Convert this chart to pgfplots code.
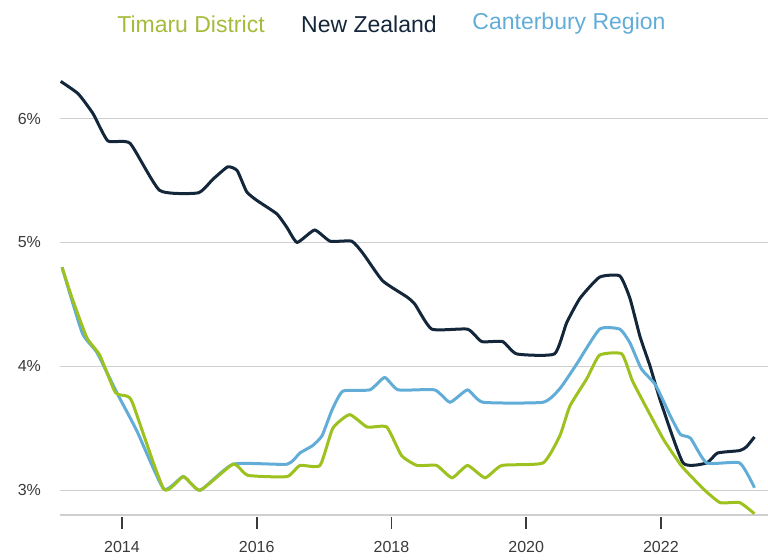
\documentclass[border=0pt]{standalone}
\usepackage{fontspec}
\setmainfont{Liberation Sans}
\usepackage{pgfplots}
\pgfplotsset{compat=1.18}
\definecolor{timaru}{HTML}{9DC11F}
\definecolor{timarutxt}{HTML}{A6BA3C}
\definecolor{nz}{HTML}{13263A}
\definecolor{cant}{HTML}{62ADD8}
\definecolor{gridc}{HTML}{CFCFCF}
\definecolor{lab}{HTML}{3A3A3A}
\begin{document}
\begin{tikzpicture}
\path[use as bounding box] (0,0) rectangle (384pt,280pt);
\begin{axis}[
  at={(30pt,22.5pt)}, anchor=south west,
  width=354pt, height=223pt, scale only axis,
  xmin=2013.08, xmax=2023.59, ymin=2.8, ymax=6.4,
  axis x line*=bottom, axis y line*=left,
  x axis line style={gridc, line width=0.7pt, -},
  y axis line style={draw=none},
  ytick={3,4,5,6}, yticklabels={3\%,4\%,5\%,6\%},
  xtick={2014,2016,2018,2020,2022}, xticklabels={2014,2016,2018,2020,2022},
  ymajorgrids, grid style={gridc, line width=0.6pt},
  ytick style={draw=none},
  xtick style={lab, line width=0.9pt, yshift=-1pt},
  xtick align=outside, major tick length=6pt,
  tick label style={font=\fontsize{8}{9}\selectfont, text=lab},
  yticklabel style={xshift=-6pt},
  xticklabel style={yshift=-3.5pt},
  /pgf/number format/assume math mode=true,
  clip=false,
]
% New Zealand
\addplot[nz, line width=1.5pt, smooth, tension=0.3] coordinates {
(2013.09,6.30) (2013.35,6.20) (2013.57,6.04) (2013.79,5.82) (2014.12,5.80)
(2014.56,5.42) (2015.13,5.40) (2015.35,5.51) (2015.57,5.61) (2015.71,5.58)
(2015.85,5.41) (2016.00,5.34) (2016.30,5.23) (2016.45,5.12) (2016.60,5.00)
(2016.86,5.10) (2017.09,5.01) (2017.41,5.01) (2017.58,4.91) (2017.87,4.69)
(2018.23,4.56) (2018.35,4.50) (2018.60,4.30) (2019.13,4.30) (2019.34,4.20)
(2019.65,4.20) (2019.86,4.10) (2020.42,4.10) (2020.60,4.35) (2020.80,4.55)
(2021.09,4.72) (2021.39,4.73) (2021.54,4.55) (2021.69,4.24) (2021.84,4.00)
(2022.00,3.71) (2022.33,3.22) (2022.68,3.22) (2022.84,3.30) (2023.17,3.32)
(2023.27,3.35) (2023.39,3.43)
};
% Canterbury Region
\addplot[cant, line width=1.5pt, smooth, tension=0.3] coordinates {
(2013.11,4.80) (2013.41,4.27) (2013.63,4.11) (2013.93,3.78) (2014.22,3.48)
(2014.62,3.01) (2014.91,3.11) (2015.16,3.00) (2015.65,3.21)
(2016.45,3.21) (2016.64,3.30) (2016.83,3.36) (2016.97,3.44) (2017.12,3.65)
(2017.28,3.80) (2017.68,3.81) (2017.90,3.91) (2018.10,3.81) (2018.64,3.81)
(2018.87,3.71) (2019.13,3.81) (2019.36,3.71) (2020.25,3.71) (2020.50,3.82)
(2020.74,4.01) (2021.09,4.30) (2021.39,4.30) (2021.54,4.19) (2021.71,3.98)
(2021.92,3.85) (2022.14,3.60) (2022.29,3.45) (2022.44,3.42) (2022.68,3.22)
(2023.17,3.22) (2023.39,3.02)
};
% Timaru District
\addplot[timaru, line width=1.5pt, smooth, tension=0.3] coordinates {
(2013.11,4.80) (2013.26,4.55) (2013.48,4.23) (2013.67,4.09) (2013.90,3.79)
(2014.07,3.76) (2014.16,3.70) (2014.62,3.01) (2014.91,3.11) (2015.16,3.00)
(2015.65,3.21) (2015.87,3.12) (2016.45,3.11) (2016.64,3.20) (2016.94,3.20)
(2017.13,3.50) (2017.38,3.61) (2017.64,3.51) (2017.93,3.51) (2018.15,3.28)
(2018.38,3.20) (2018.67,3.20) (2018.90,3.10) (2019.13,3.20) (2019.39,3.10)
(2019.64,3.20) (2020.25,3.22) (2020.50,3.44) (2020.65,3.68) (2020.90,3.90)
(2021.09,4.09) (2021.42,4.10) (2021.58,3.88) (2021.85,3.60) (2022.05,3.40)
(2022.30,3.20) (2022.47,3.10) (2022.65,3.00) (2022.88,2.90) (2023.17,2.90)
(2023.39,2.81)
};
\end{axis}
\node[text=timarutxt, font=\fontsize{11.5}{13}\selectfont] at (95.5pt,268pt) {Timaru District};
\node[text=nz, font=\fontsize{11.5}{13}\selectfont] at (184.5pt,268pt) {New Zealand};
\node[text=cant, font=\fontsize{11.5}{13}\selectfont] at (284.5pt,268pt) {Canterbury Region};
\end{tikzpicture}
\end{document}
